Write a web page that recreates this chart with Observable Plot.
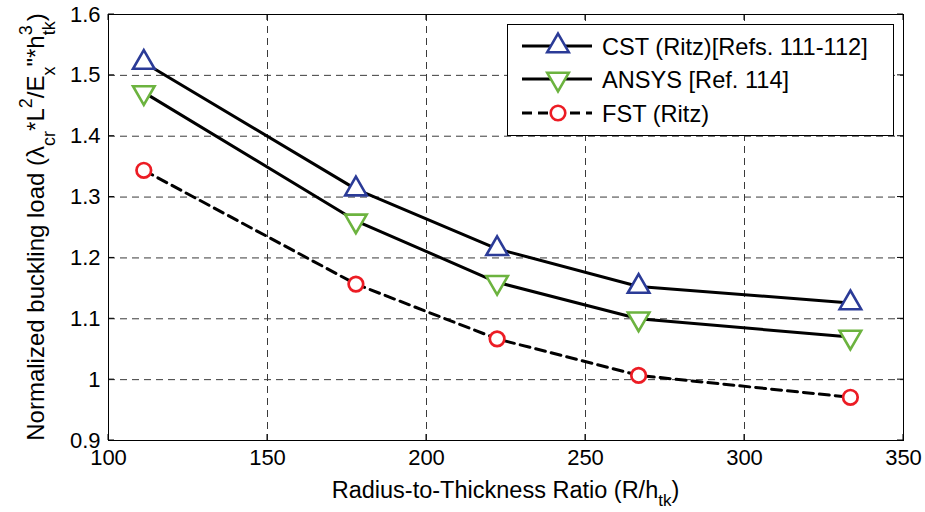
<!DOCTYPE html>
<html>
<head>
<meta charset="utf-8">
<script src="https://cdn.jsdelivr.net/npm/d3@7"></script>
<script src="https://cdn.jsdelivr.net/npm/@observablehq/plot@0.6"></script>
<style>
  html, body { margin: 0; padding: 0; background: #fff; }
  #chart svg { display: block; }
</style>
</head>
<body>
<div id="chart"></div>
<script>
// Radius-to-thickness ratios (R/h_tk) at which the buckling load was computed
const ratios = [111.1, 177.8, 222.2, 266.7, 333.3];

// Normalized buckling load for each method
const cstRitz = [1.521, 1.313, 1.215, 1.153, 1.126];
const ansys   = [1.472, 1.261, 1.160, 1.100, 1.070];
const fstRitz = [1.344, 1.157, 1.067, 1.007, 0.971];

// Axis ticks
const xTicks = [100, 150, 200, 250, 300, 350];
const yTicks = [0.9, 1.0, 1.1, 1.2, 1.3, 1.4, 1.5, 1.6];

// Legend entries
const seriesNames = ["CST (Ritz)[Refs. 111-112]", "ANSYS [Ref. 114]", "FST (Ritz)"];
const seriesColors = ["#2b3b97", "#6cb33f", "#ec1c24"];

const rows = (ys) => ratios.map((x, i) => ({x, y: ys[i]}));
const cst = rows(cstRitz), ans = rows(ansys), fst = rows(fstRitz);

const font = "'Liberation Sans', Arial, Helvetica, sans-serif";
const gridStyle = {stroke: "#3a3a3a", strokeOpacity: 1, strokeWidth: 1, strokeDasharray: "7,5"};
const triR = 8, circR = 7.3;

const chart = Plot.plot({
  width: 925,
  height: 512,
  marginLeft: 108,
  marginRight: 22,
  marginTop: 14,
  marginBottom: 72,
  style: {fontFamily: font, fontSize: "22px", color: "#000", background: "#fff"},
  x: {domain: [100, 350], ticks: xTicks, label: null},
  y: {domain: [0.9, 1.6], ticks: yTicks, label: null},
  marks: [
    Plot.gridX(xTicks, gridStyle),
    Plot.gridY(yTicks, gridStyle),
    Plot.axisX({ticks: xTicks, tickSize: 0, tickPadding: 9, fontSize: 22, label: null}),
    Plot.axisY({ticks: yTicks, tickSize: 0, tickPadding: 8, fontSize: 22, label: null,
                tickFormat: d => String(+d.toFixed(1))}),
    Plot.line(cst, {x: "x", y: "y", stroke: "#000", strokeWidth: 3}),
    Plot.line(ans, {x: "x", y: "y", stroke: "#000", strokeWidth: 3}),
    Plot.line(fst, {x: "x", y: "y", stroke: "#000", strokeWidth: 3, strokeDasharray: "10,6"}),
    Plot.dot(cst, {x: "x", y: "y", symbol: "triangle", r: triR, fill: "#fff", stroke: seriesColors[0], strokeWidth: 2.6}),
    Plot.dot(ans, {x: "x", y: "y", symbol: "triangle", rotate: 180, r: triR, fill: "#fff", stroke: seriesColors[1], strokeWidth: 2.6}),
    Plot.dot(fst, {x: "x", y: "y", symbol: "circle", r: circR, fill: "#fff", stroke: seriesColors[2], strokeWidth: 2.7}),
    Plot.frame({stroke: "#000", strokeWidth: 1})
  ]
});

document.getElementById("chart").append(chart);

// Inward tick marks on all four sides, placed with the chart's scales
const sx = chart.scale("x").apply, sy = chart.scale("y").apply;
const svg = d3.select(chart);
const [x0, x1] = [sx(100), sx(350)];
const [y0, y1] = [sy(0.9), sy(1.6)];
const tk = svg.append("g").attr("stroke", "#000").attr("stroke-width", 1);
xTicks.forEach(v => {
  tk.append("line").attr("x1", sx(v)).attr("x2", sx(v)).attr("y1", y0).attr("y2", y0 - 6);
  tk.append("line").attr("x1", sx(v)).attr("x2", sx(v)).attr("y1", y1).attr("y2", y1 + 6);
});
yTicks.forEach(v => {
  tk.append("line").attr("y1", sy(v)).attr("y2", sy(v)).attr("x1", x0).attr("x2", x0 + 6);
  tk.append("line").attr("y1", sy(v)).attr("y2", sy(v)).attr("x1", x1).attr("x2", x1 - 6);
});

// Axis titles with sub- and superscripts
const xl = svg.append("text")
  .attr("x", (x0 + x1) / 2).attr("y", 498)
  .attr("text-anchor", "middle").attr("font-family", font).attr("font-size", 23.5).attr("fill", "#000");
xl.append("tspan").text("Radius-to-Thickness Ratio (R/h");
xl.append("tspan").attr("dy", 8).attr("font-size", 17).text("tk");
xl.append("tspan").attr("dy", -8).text(")");

const yl = svg.append("text")
  .attr("transform", `translate(44,${(y0 + y1) / 2}) rotate(-90)`)
  .attr("text-anchor", "middle").attr("font-family", font).attr("font-size", 24).attr("fill", "#000");
yl.append("tspan").text("Normalized buckling load (λ");
yl.append("tspan").attr("dy", 11).attr("font-size", 18).text("cr");
yl.append("tspan").attr("dy", -11).text("*L");
yl.append("tspan").attr("dy", -12).attr("font-size", 18).text("2");
yl.append("tspan").attr("dy", 12).text("/E");
yl.append("tspan").attr("dy", 11).attr("font-size", 18).text("x");
yl.append("tspan").attr("dy", -11).text("\"*h");
yl.append("tspan").attr("dy", -12).attr("font-size", 18).text("3");
yl.append("tspan").attr("dy", 23).attr("dx", -10).attr("font-size", 18).text("tk");
yl.append("tspan").attr("dy", -11).text(")");

// Legend box
const lg = svg.append("g");
lg.append("rect").attr("x", 507.5).attr("y", 24.5).attr("width", 386).attr("height", 111)
  .attr("fill", "#fff").attr("stroke", "#000").attr("stroke-width", 1);
const rowY = [46, 79, 113];
const symbols = [d3.symbolTriangle, d3.symbolTriangle, d3.symbolCircle];
const sizes = [Math.PI * triR * triR, Math.PI * triR * triR, Math.PI * circR * circR];
seriesNames.forEach((name, i) => {
  const g = lg.append("g").attr("transform", `translate(0,${rowY[i]})`);
  g.append("line").attr("x1", 522).attr("x2", 592).attr("y1", 0).attr("y2", 0)
    .attr("stroke", "#000").attr("stroke-width", 3)
    .attr("stroke-dasharray", i === 2 ? "10,6" : null);
  g.append("path").attr("d", d3.symbol(symbols[i], sizes[i])())
    .attr("transform", `translate(558,0)${i === 1 ? " rotate(180)" : ""}`)
    .attr("fill", "#fff").attr("stroke", seriesColors[i]).attr("stroke-width", 2.6);
  g.append("text").attr("x", 602).attr("y", 0).attr("dy", "0.36em")
    .attr("text-anchor", "start")
    .attr("font-family", font).attr("font-size", 23.6).attr("fill", "#000").text(name);
});
</script>
</body>
</html>
